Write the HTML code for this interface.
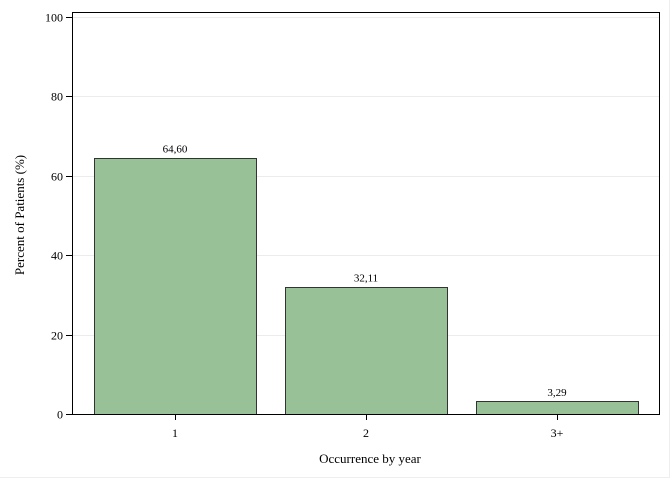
<!DOCTYPE html>
<html><head><meta charset="utf-8"><style>
body{margin:0;background:#fff;}
svg{display:block;font-family:"Liberation Serif",serif;}
</style></head><body>
<svg id="chart" width="672" height="480">
<line x1="669.5" y1="0" x2="669.5" y2="477" stroke="#eeeeee"/>
<line x1="0" y1="477.5" x2="670" y2="477.5" stroke="#eeeeee"/>
<g id="grid"></g>
<g id="bars"></g>
<rect x="72.5" y="12.5" width="587" height="402" fill="none" stroke="#000"/>
<g id="axes"></g>
<text x="370" y="463" font-size="13" text-anchor="middle">Occurrence by year</text>
<text x="24" y="215" font-size="13" text-anchor="middle" transform="rotate(-90 24 215)">Percent of Patients (%)</text>
</svg>
<script>
const categories = ["1","2","3+"];
const values = [64.60, 32.11, 3.29];
const valueLabels = ["64,60","32,11","3,29"];
const yTicks = [0,20,40,60,80,100];
const NS="http://www.w3.org/2000/svg";
const y0=414, pxPer=3.97;
function yScale(v){return y0-v*pxPer;}
const bandStart=80, band=191, barW=162;
function xCenter(i){return 175+i*band;}
function mk(tag,attrs,parent){const e=document.createElementNS(NS,tag);for(const k in attrs)e.setAttribute(k,attrs[k]);parent.appendChild(e);return e;}
const grid=document.getElementById('grid'),bars=document.getElementById('bars'),axes=document.getElementById('axes');
yTicks.forEach(t=>{
  const y=Math.round(yScale(t))+0.5;
  if(t>0){const g=mk('line',{x1:73,x2:659,y1:y,y2:y,stroke:'#ececec'},grid);
  
  }
  const tk=mk('line',{x1:66,x2:72,y1:y,y2:y,stroke:'#000'},axes);
  
  
  const lb=mk('text',{x:63,y:y+4,'font-size':12,'text-anchor':'end'},axes);
  lb.textContent=t;
  
  
});
categories.forEach((c,i)=>{
  const cx=xCenter(i), top=yScale(values[i]);
  const r=mk('rect',{x:cx-barW/2+0.5,y:Math.round(top)+0.5,width:barW,height:y0-Math.round(top),fill:'#98c198',stroke:'#333'},bars);
  
  
  const vl=mk('text',{x:cx,y:top-5,'font-size':11,'text-anchor':'middle'},bars);
  vl.textContent=valueLabels[i];
  
  
  const tk=mk('line',{x1:cx+0.5,x2:cx+0.5,y1:414,y2:420,stroke:'#000'},axes);
  
  
  const lb=mk('text',{x:cx,y:437,'font-size':12,'text-anchor':'middle'},axes);
  lb.textContent=c;
  
  
});
</script>
</body></html>
